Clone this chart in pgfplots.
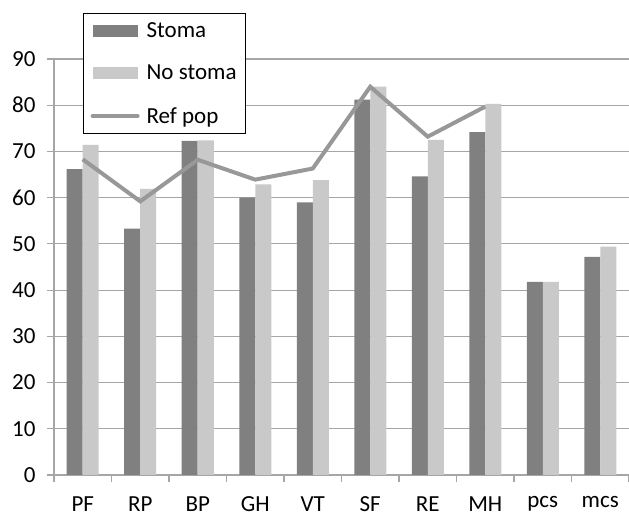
\documentclass[border=0pt]{standalone}
\usepackage{fontspec}
\setmainfont{Carlito}
\usepackage{pgfplots}
\pgfplotsset{compat=1.18}
\definecolor{stoma}{RGB}{128,128,128}
\definecolor{nostoma}{RGB}{200,201,200}
\definecolor{refpop}{RGB}{152,152,152}
\definecolor{gridc}{RGB}{166,166,166}
\begin{document}
\begin{tikzpicture}
\begin{axis}[name=ax,
  scale only axis, width=575pt, height=416pt,
  xmin=-0.5, xmax=9.5, ymin=0, ymax=90,
  ybar=0pt, bar width=16pt,
  axis x line*=bottom, axis y line*=left,
  axis line style={gridc, line width=1.2pt, -},
  tick align=outside,
  tick style={gridc, line width=1.2pt},
  major tick length=7pt,
  xtick={-0.5,0.5,1.5,2.5,3.5,4.5,5.5,6.5,7.5,8.5,9.5},
  xticklabels={},
  extra x ticks={0,1,2,3,4,5,6,7,8,9},
  extra x tick labels={PF,RP,BP,GH,VT,SF,RE,MH,pcs,mcs},
  extra x tick style={major tick length=0pt, grid=none},
  ytick={0,10,...,90},
  ymajorgrids, grid style={gridc, line width=1.2pt},
  /pgf/number format/assume math mode=true,
  tick label style={font=\fontsize{23}{27}\selectfont, text=black},
  xticklabel style={yshift=-18pt},
  yticklabel style={xshift=-8pt},
  legend style={at={(axis description cs:0,1)}, anchor=north west,
    xshift=29pt, yshift=46pt, draw=black, line width=1.2pt,
    font=\fontsize{23}{27}\selectfont, row sep=22pt,
    inner xsep=7pt, inner ysep=7pt,
    cells={anchor=west}},
]
\addplot[fill=stoma, draw=none,
  legend image code/.code={\fill[stoma] (0pt,-6pt) rectangle (45pt,6pt); \path (48pt,0pt);}]
  coordinates {(0,66.2) (1,53.3) (2,72.3) (3,60.0) (4,59.0) (5,81.2) (6,64.6) (7,74.2) (8,41.8) (9,47.2)};
\addlegendentry{Stoma}
\addplot[fill=nostoma, draw=none,
  legend image code/.code={\fill[nostoma] (0pt,-6pt) rectangle (45pt,6pt); \path (48pt,0pt);}]
  coordinates {(0,71.4) (1,61.9) (2,72.4) (3,62.9) (4,63.8) (5,84.0) (6,72.5) (7,80.3) (8,41.8) (9,49.4)};
\addlegendentry{No stoma}
\addplot[sharp plot, refpop, line width=4pt, mark=none,
  legend image code/.code={\draw[refpop, line width=4pt, line cap=round] (0pt,0pt) -- (45pt,0pt); \path (50pt,0pt);}]
  coordinates {(0,68.3) (1,59.2) (2,68.2) (3,63.9) (4,66.3) (5,84.0) (6,73.2) (7,79.7)};
\addlegendentry{Ref pop}
\end{axis}
\pgfresetboundingbox
\path (ax.south west) ++(-54pt,-41pt) rectangle ++(629pt,516pt);
\end{tikzpicture}
\end{document}
